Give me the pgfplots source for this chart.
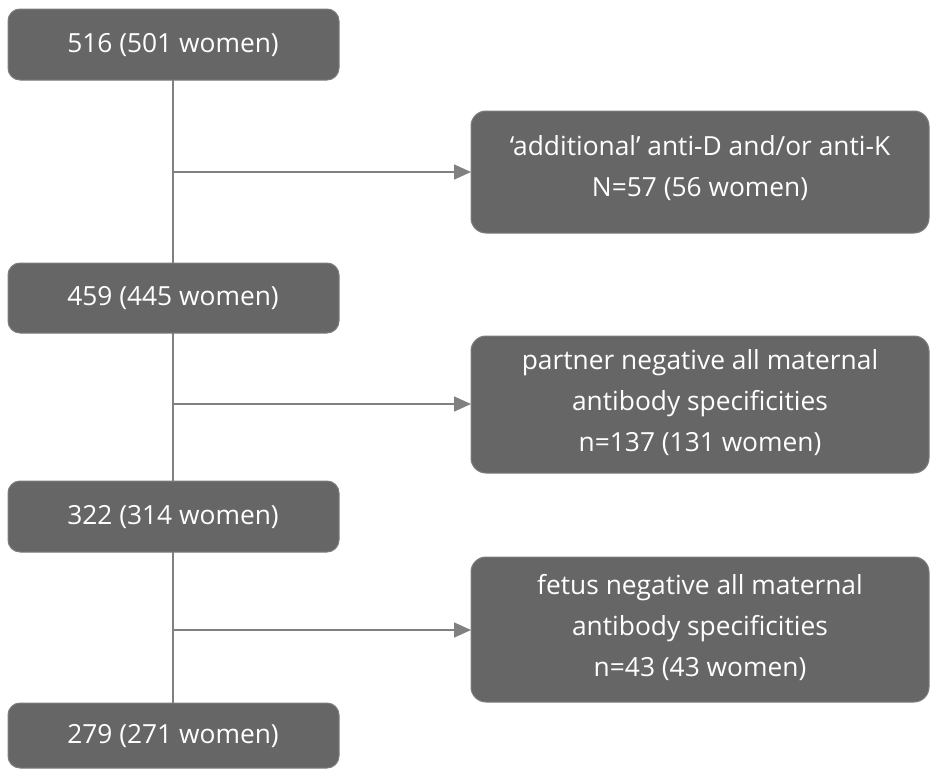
\documentclass[border=0pt]{standalone}
\usepackage{pgfplots}
\pgfplotsset{compat=1.18}
\usepackage{fontspec}
\setmainfont{Open Sans}
\usetikzlibrary{arrows.meta}
\definecolor{boxgray}{HTML}{666666}
\definecolor{linegray}{HTML}{808080}
\begin{document}
\begin{tikzpicture}
\begin{axis}[
  x=0.3pt, y=0.3pt, y dir=reverse,
  xmin=0, xmax=931, ymin=0, ymax=769,
  axis lines=none, clip=false,
  scale only axis,
]
% invisible frame to fix the picture's extent
\addplot[draw=none, forget plot] coordinates {(0,0) (931,769)};
% connecting lines
\addplot[linegray, line width=0.45pt] coordinates {(173,80) (173,703)};
\addplot[linegray, line width=0.45pt, -{Triangle[length=5.1pt,width=4.5pt]}] coordinates {(173,172) (471,172)};
\addplot[linegray, line width=0.45pt, -{Triangle[length=5.1pt,width=4.5pt]}] coordinates {(173,404) (471,404)};
\addplot[linegray, line width=0.45pt, -{Triangle[length=5.1pt,width=4.5pt]}] coordinates {(173,630) (471,630)};
% left boxes
\addplot[fill=boxgray, draw=boxgray!85!white, line width=0.3pt, rounded corners=3.6pt] coordinates {(8,9) (339,9) (339,80) (8,80)} -- cycle;
\addplot[fill=boxgray, draw=boxgray!85!white, line width=0.3pt, rounded corners=3.6pt] coordinates {(8,263) (339,263) (339,333) (8,333)} -- cycle;
\addplot[fill=boxgray, draw=boxgray!85!white, line width=0.3pt, rounded corners=3.6pt] coordinates {(8,481) (339,481) (339,552) (8,552)} -- cycle;
\addplot[fill=boxgray, draw=boxgray!85!white, line width=0.3pt, rounded corners=3.6pt] coordinates {(8,703) (339,703) (339,768) (8,768)} -- cycle;
% right boxes
\addplot[fill=boxgray, draw=boxgray!85!white, line width=0.3pt, rounded corners=4.5pt] coordinates {(471,111) (929,111) (929,233) (471,233)} -- cycle;
\addplot[fill=boxgray, draw=boxgray!85!white, line width=0.3pt, rounded corners=4.5pt] coordinates {(471,336) (929,336) (929,473) (471,473)} -- cycle;
\addplot[fill=boxgray, draw=boxgray!85!white, line width=0.3pt, rounded corners=4.5pt] coordinates {(471,557) (929,557) (929,702) (471,702)} -- cycle;
% texts
\tikzset{bt/.style={text=white, align=center, inner sep=0pt, font=\fontsize{7.9}{12.3}\selectfont}}
\node[bt] at (axis cs:173,45) {516 (501 women)};
\node[bt] at (axis cs:173,298) {459 (445 women)};
\node[bt] at (axis cs:173,517) {322 (314 women)};
\node[bt] at (axis cs:173,736) {279 (271 women)};
\node[bt] at (axis cs:700,168) {‘additional’ anti-D and/or anti-K\\N=57 (56 women)};
\node[bt] at (axis cs:700,403) {partner negative all maternal\\antibody specificities\\n=137 (131 women)};
\node[bt] at (axis cs:700,628) {fetus negative all maternal\\antibody specificities\\n=43 (43 women)};
\end{axis}
\end{tikzpicture}
\end{document}
